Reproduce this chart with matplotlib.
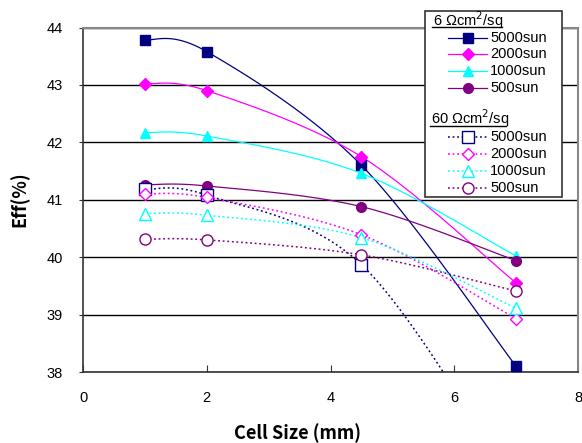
import numpy as np
import matplotlib
matplotlib.use("Agg")
import matplotlib.pyplot as plt
from matplotlib.lines import Line2D
from matplotlib.patches import Rectangle

plt.rcParams['font.family'] = ['Liberation Sans', 'DejaVu Sans']

# data
cell_size = [1, 2, 4.5, 7]
suns = ["5000sun", "2000sun", "1000sun", "500sun"]
colors = ["#000080", "#FF00FF", "#00FFFF", "#800080"]
markers = ["s", "D", "^", "o"]

# 6 ohm cm2/sq
eff_6 = [
    [43.79, 43.58, 41.60, 38.10],
    [43.02, 42.90, 41.75, 39.55],
    [42.17, 42.11, 41.46, 40.02],
    [41.26, 41.24, 40.88, 39.94],
]
# 60 ohm cm2/sq
eff_60 = [
    [41.18, 41.08, 39.87, 36.00],
    [41.10, 41.04, 40.39, 38.93],
    [40.76, 40.73, 40.34, 39.11],
    [40.31, 40.30, 40.04, 39.41],
]

W, H = 582, 443


def smooth(x, y, n=40):
    # Excel-like smoothed line (Catmull-Rom bezier through the points)
    p = np.column_stack([x, y]).astype(float)
    pts = np.vstack([p[0], p, p[-1]])
    out = []
    t = np.linspace(0, 1, n)[:, None]
    for i in range(1, len(pts) - 2):
        p0, p1 = pts[i], pts[i + 1]
        c1 = p0 + (pts[i + 1] - pts[i - 1]) / 6
        c2 = p1 - (pts[i + 2] - pts[i]) / 6
        seg = ((1 - t) ** 3) * p0 + 3 * ((1 - t) ** 2) * t * c1 + 3 * (1 - t) * t ** 2 * c2 + t ** 3 * p1
        out.append(seg if i == 1 else seg[1:])
    out = np.vstack(out)
    return out[:, 0], out[:, 1]


def px(x, y):
    return x / W, 1 - y / H


fig = plt.figure(figsize=(W / 100, H / 100), dpi=100)
fig.patch.set_facecolor("white")
l, b = px(83, 372)
r, t = px(578, 27.5)
ax = fig.add_axes([l, b, r - l, t - b])

dot = (0, (1.2, 1.8))
for i in range(4):
    sx, sy = smooth(cell_size, eff_6[i])
    ax.plot(sx, sy, color=colors[i], lw=0.9, zorder=3)
    ax.plot(cell_size, eff_6[i], ls="none", marker=markers[i], color=colors[i],
            ms=7 if markers[i] != "D" else 6, zorder=4, clip_on=False)
for i in range(4):
    sx, sy = smooth(cell_size, eff_60[i])
    ax.plot(sx, sy, color=colors[i], lw=1.1, ls=dot, zorder=3)
    ax.plot(cell_size, eff_60[i], ls="none", marker=markers[i], mfc="white",
            mec=colors[i], mew=1.0, ms=8 if markers[i] != "D" else 6.5, zorder=4)

ax.set_xlim(0, 8)
ax.set_ylim(38, 44)
ax.set_xticks([0, 2, 4, 6, 8])
ax.set_yticks([38, 39, 40, 41, 42, 43, 44])
ax.yaxis.grid(True, color="black", lw=1.0)
ax.set_axisbelow(True)
ax.tick_params(axis="x", direction="in", length=5, labelsize=10.5, pad=14, colors="#333333", labelcolor="black")
ax.tick_params(axis="y", direction="out", length=3, labelsize=10.5, pad=11.5, colors="#333333", labelcolor="black")
for side in ["top", "right"]:
    ax.spines[side].set_color("#888888")
    ax.spines[side].set_linewidth(1.5)
for side in ["left", "bottom"]:
    ax.spines[side].set_color("#333333")
    ax.spines[side].set_linewidth(1.2)

ax.set_xlabel("Cell Size (mm)", fontsize=13, fontweight="bold",
              family=["Noto Sans CJK JP", "DejaVu Sans"])
ax.xaxis.set_label_coords((297 - 83) / 495, (372 - 433) / 344.5)
ax.set_ylabel("Eff(%)", fontsize=13, fontweight="bold",
              family=["Noto Sans CJK JP", "DejaVu Sans"])
ax.yaxis.set_label_coords((20 - 83) / 495, (372 - 199) / 344.5)
ax.yaxis.label.set_va("center")
ax.xaxis.label.set_va("center")

# legend, drawn by hand in figure coordinates
x0, y0 = px(425, 197)
x1, y1 = px(562, 10.5)
fig.patches.append(Rectangle((x0, y0), x1 - x0, y1 - y0, transform=fig.transFigure,
                             facecolor="white", edgecolor="#333333", lw=1.2, zorder=10))

headers = ["6 \u03a9cm$^2$/sq", "60 \u03a9cm$^2$/sq"]
header_y = [20, 118]
header_ul = [26.5, 125.5]
header_w = [70, 76]
rows = [[37.5, 54, 71, 88], [137, 154, 171, 187.5]]
for g in range(2):
    hx, hy = px(433 - 2 * g, header_y[g])
    fig.text(hx, hy, headers[g], fontsize=10.5, va="center", ha="left", zorder=11)
    ux0, uy = px(432 - 2 * g, header_ul[g])
    ux1, _ = px(432 - 2 * g + header_w[g], header_ul[g])
    fig.add_artist(Line2D([ux0, ux1], [uy, uy], transform=fig.transFigure, color="black", lw=1.0, zorder=11))
    for i in range(4):
        ya = rows[g][i]
        lx0, ly = px(448, ya)
        lx1, _ = px(487, ya)
        mx, _ = px(467.5, ya)
        if g == 0:
            fig.add_artist(Line2D([lx0, lx1], [ly, ly], transform=fig.transFigure,
                                  color=colors[i], lw=0.9, zorder=11))
            fig.add_artist(Line2D([mx], [ly], transform=fig.transFigure, ls="none",
                                  marker=markers[i], color=colors[i],
                                  ms=7 if markers[i] != "D" else 6, zorder=12))
        else:
            fig.add_artist(Line2D([lx0, lx1], [ly, ly], transform=fig.transFigure,
                                  color=colors[i], lw=1.1, ls=dot, zorder=11))
            fig.add_artist(Line2D([mx], [ly], transform=fig.transFigure, ls="none",
                                  marker=markers[i], mfc="white", mec=colors[i], mew=1.0,
                                  ms=8 if markers[i] != "D" else 6.5, zorder=12))
        tx, _ = px(490, ya)
        fig.text(tx, ly, suns[i], fontsize=10.5, va="center", ha="left", zorder=12)

fig.savefig("out.png", dpi=100)
